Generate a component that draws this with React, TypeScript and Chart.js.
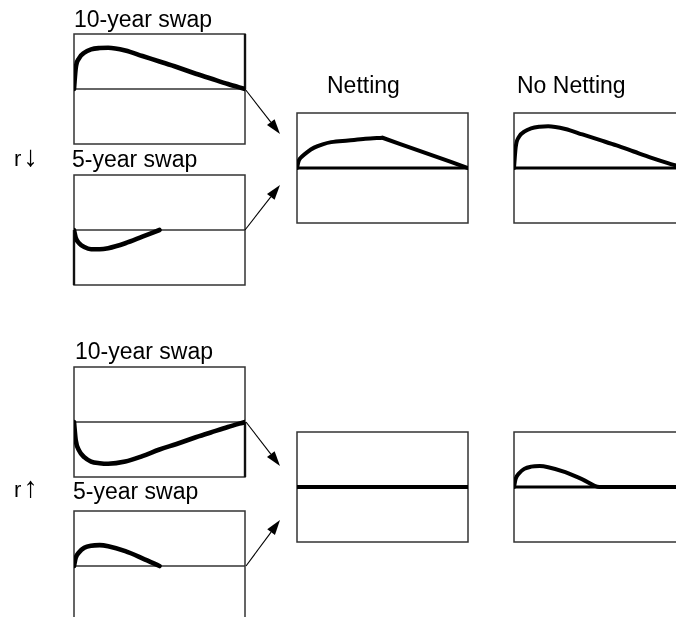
import React, { useEffect, useRef } from "react";
import { Chart, registerables } from "chart.js";
Chart.register(...registerables);

// ---------- data (years to maturity, exposure in relative units) ----------
const years10 = [0, 0.1, 0.3, 0.6, 1, 1.5, 2, 3, 4, 5, 6, 7, 8, 9, 10];
const years5 = [0, 0.1, 0.3, 0.6, 1, 1.5, 2, 3, 4, 5];

// rates fall (r↓)
const swap10Down = [0, 0.38, 0.56, 0.66, 0.72, 0.745, 0.75, 0.7, 0.6, 0.5, 0.4, 0.29, 0.19, 0.09, 0];
const swap5Down = [0, -0.14, -0.24, -0.31, -0.35, -0.35, -0.33, -0.24, -0.12, 0];
const nettingDown = [0, 0.13, 0.21, 0.29, 0.37, 0.43, 0.47, 0.5, 0.53, 0.55, 0.44, 0.33, 0.22, 0.11, 0];
const noNettingDown = [0, 0.38, 0.57, 0.66, 0.72, 0.75, 0.76, 0.71, 0.61, 0.51, 0.41, 0.3, 0.19, 0.09, 0];

// rates rise (r↑)
const swap10Up = [0, -0.33, -0.52, -0.64, -0.72, -0.75, -0.76, -0.72, -0.62, -0.5, -0.4, -0.29, -0.19, -0.09, 0];
const swap5Up = [0, 0.15, 0.25, 0.33, 0.37, 0.38, 0.36, 0.27, 0.14, 0];
const nettingUp = [0, 0, 0, 0, 0, 0, 0, 0, 0, 0, 0, 0, 0, 0, 0];
const noNettingUp = [0, 0.15, 0.25, 0.33, 0.37, 0.38, 0.36, 0.27, 0.14, 0, 0, 0, 0, 0, 0];

const xMin = 0;
const xMax = 10;
const yMin = -1;
const yMax = 1;

// ---------- layout ----------
const PAD = 8;
const BOX_W = 171;
const BOX_H = 110;
const FONT = '"Liberation Sans", Arial, Helvetica, sans-serif';

type Series = { x: number[]; y: number[]; width: number; kinkAt?: number };
type Edge = { side: "left" | "right"; half: "upper" | "lower" };

const pts = (xs: number[], ys: number[]) => xs.map((x, i) => ({ x, y: ys[i] }));

function buildDatasets(series: Series[], zeroThick: boolean) {
  const ds: any[] = [];
  if (zeroThick) {
    ds.push({
      data: [
        { x: xMin, y: 0 },
        { x: xMax, y: 0 },
      ],
      borderColor: "#000",
      borderWidth: 3.2,
      tension: 0,
    });
  }
  series.forEach((s) => {
    if (s.kinkAt !== undefined) {
      const k = s.kinkAt;
      ds.push({
        data: pts(s.x.slice(0, k + 1), s.y.slice(0, k + 1)),
        borderColor: "#000",
        borderWidth: s.width,
        cubicInterpolationMode: "monotone",
      });
      ds.push({
        data: pts(s.x.slice(k), s.y.slice(k)),
        borderColor: "#000",
        borderWidth: s.width,
        tension: 0,
      });
    } else {
      ds.push({
        data: pts(s.x, s.y),
        borderColor: "#000",
        borderWidth: s.width,
        cubicInterpolationMode: "monotone",
      });
    }
  });
  return ds;
}

function framePlugin(zeroThick: boolean, edge?: Edge) {
  return {
    id: "frame",
    beforeDatasetsDraw(chart: any) {
      const { ctx, chartArea } = chart;
      const y0 = chart.scales.y.getPixelForValue(0);
      ctx.save();
      ctx.strokeStyle = "#333";
      ctx.lineWidth = 1.5;
      ctx.strokeRect(chartArea.left, chartArea.top, chartArea.right - chartArea.left, chartArea.bottom - chartArea.top);
      if (!zeroThick) {
        ctx.beginPath();
        ctx.moveTo(chartArea.left, y0);
        ctx.lineTo(chartArea.right, y0);
        ctx.stroke();
      }
      if (edge) {
        const x = edge.side === "left" ? chartArea.left : chartArea.right;
        const ya = edge.half === "upper" ? chartArea.top : y0;
        const yb = edge.half === "upper" ? y0 : chartArea.bottom;
        ctx.lineWidth = 2.4;
        ctx.strokeStyle = "#111";
        ctx.beginPath();
        ctx.moveTo(x, ya);
        ctx.lineTo(x, yb);
        ctx.stroke();
      }
      ctx.restore();
    },
  };
}

function Panel(props: { left: number; top: number; series: Series[]; zeroThick: boolean; edge?: Edge }) {
  const ref = useRef<HTMLCanvasElement | null>(null);
  useEffect(() => {
    if (!ref.current) return;
    const chart = new Chart(ref.current, {
      type: "line",
      data: { datasets: buildDatasets(props.series, props.zeroThick) },
      options: {
        animation: false,
        responsive: false,
        devicePixelRatio: 1,
        events: [],
        layout: { padding: PAD },
        plugins: { legend: { display: false }, tooltip: { enabled: false } },
        elements: {
          point: { radius: 0 },
          line: { borderCapStyle: "round", borderJoinStyle: "round", fill: false },
        },
        scales: {
          x: { type: "linear", min: xMin, max: xMax, display: false },
          y: { type: "linear", min: yMin, max: yMax, display: false },
        },
      } as any,
      plugins: [framePlugin(props.zeroThick, props.edge)],
    });
    return () => chart.destroy();
  }, []);
  return (
    <canvas
      ref={ref}
      width={BOX_W + 2 * PAD}
      height={BOX_H + 2 * PAD}
      style={{ position: "absolute", left: props.left - PAD, top: props.top - PAD, width: BOX_W + 2 * PAD, height: BOX_H + 2 * PAD }}
    />
  );
}

function Arrow({ x1, y1, x2, y2 }: { x1: number; y1: number; x2: number; y2: number }) {
  const dx = x2 - x1;
  const dy = y2 - y1;
  const L = Math.hypot(dx, dy);
  const ux = dx / L;
  const uy = dy / L;
  const head = 15;
  const hw = 4.8;
  const bx = x2 - ux * head;
  const by = y2 - uy * head;
  const p = `${x2},${y2} ${bx - uy * hw},${by + ux * hw} ${bx + uy * hw},${by - ux * hw}`;
  return (
    <g>
      <line x1={x1} y1={y1} x2={bx} y2={by} stroke="#000" strokeWidth={1.1} />
      <polygon points={p} fill="#000" />
    </g>
  );
}

export default function App() {
  return (
    <div style={{ position: "fixed", left: 0, top: 0, width: 676, height: 617, overflow: "hidden", background: "#fff" }}>
      {/* r falls */}
      <Panel left={74} top={34} zeroThick={false} edge={{ side: "right", half: "upper" }} series={[{ x: years10, y: swap10Down, width: 4.6 }]} />
      <Panel left={74} top={175} zeroThick={false} edge={{ side: "left", half: "lower" }} series={[{ x: years5, y: swap5Down, width: 4.6 }]} />
      <Panel left={297} top={113} zeroThick={true} series={[{ x: years10, y: nettingDown, width: 4, kinkAt: 9 }]} />
      <Panel left={514} top={113} zeroThick={true} series={[{ x: years10, y: noNettingDown, width: 4 }]} />
      {/* r rises */}
      <Panel left={74} top={367} zeroThick={false} edge={{ side: "right", half: "lower" }} series={[{ x: years10, y: swap10Up, width: 4.6 }]} />
      <Panel left={74} top={511} zeroThick={false} series={[{ x: years5, y: swap5Up, width: 4.6 }]} />
      <Panel left={297} top={432} zeroThick={true} series={[{ x: years10, y: nettingUp, width: 4 }]} />
      <Panel left={514} top={432} zeroThick={true} series={[{ x: years10, y: noNettingUp, width: 4 }]} />

      <svg width={676} height={617} style={{ position: "absolute", left: 0, top: 0, pointerEvents: "none" }}>
        <g fontFamily={FONT} fontSize={23} fill="#000">
          <text x={74} y={27}>10-year swap</text>
          <text x={72} y={167}>5-year swap</text>
          <text x={327} y={93}>Netting</text>
          <text x={517} y={93}>No Netting</text>
          <text x={75} y={359}>10-year swap</text>
          <text x={73} y={499}>5-year swap</text>
        </g>
        <g fontFamily={FONT} fontSize={22} fill="#000">
          <text x={14} y={166}>
            r<tspan dx={2} fontSize={29}>↓</tspan>
          </text>
          <text x={14} y={497}>
            r<tspan dx={2} fontSize={29}>↑</tspan>
          </text>
        </g>
        <Arrow x1={245} y1={89} x2={280} y2={134} />
        <Arrow x1={245} y1={230} x2={280} y2={185} />
        <Arrow x1={246} y1={422} x2={280} y2={466} />
        <Arrow x1={246} y1={566} x2={280} y2={520} />
      </svg>
    </div>
  );
}
